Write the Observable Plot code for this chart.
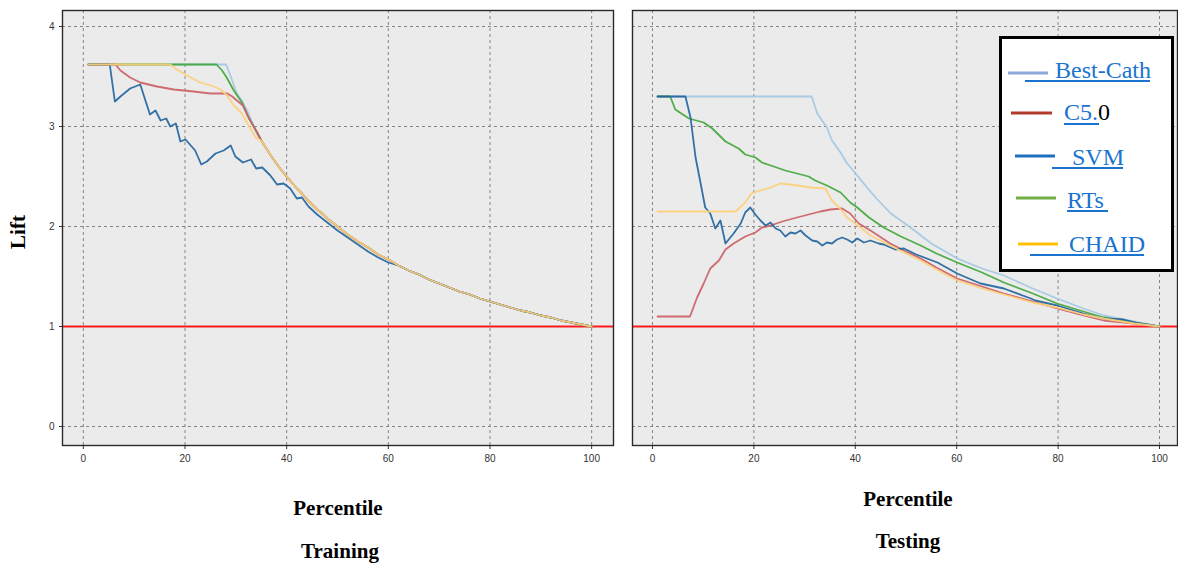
<!DOCTYPE html>
<html>
<head>
<meta charset="utf-8">
<script src="https://cdn.jsdelivr.net/npm/d3@7"></script>
<script src="https://cdn.jsdelivr.net/npm/@observablehq/plot@0.6"></script>
<style>
  html, body { margin: 0; padding: 0; background: #ffffff; }
  #wrap { position: relative; width: 1178px; height: 568px; overflow: hidden; }
  #left, #right, #overlay { position: absolute; top: 0; }
  #left { left: 0; }
  #right { left: 620px; }
  #overlay { left: 0; pointer-events: none; }
</style>
</head>
<body>
<div id="wrap">
  <div id="left"></div>
  <div id="right"></div>
  <svg id="overlay" width="1178" height="568"></svg>
</div>
<script>
// ---------- data (percentile, lift) ----------
const seriesNames = ["Best-Cath", "C5.0", "SVM", "RTs", "CHAID"];
const drawOrder = ["Best-Cath", "RTs", "C5.0", "SVM", "CHAID"];
const lineColors = ["#a3c8e2", "#cc5f66", "#22659f", "#43a73c", "#fdcf78"];
const legendColors = ["#8eaadb", "#b33a2a", "#1f6fbf", "#70ad47", "#ffc000"];
const xTicks = [0, 20, 40, 60, 80, 100];
const yTicks = [0, 1, 2, 3, 4];
const panelTitles = ["Training", "Testing"];
const axisTitleX = "Percentile";
const axisTitleY = "Lift";
const baselineLift = [1];

// common tail of the training curves (all models coincide after ~35%)
const trainTail = [[35,2.86],[36,2.78],[37,2.70],[38,2.63],[39,2.56],[40,2.50],[41,2.44],[42,2.38],[43,2.33],[44,2.27],[45,2.22],[46,2.17],[47,2.13],[48,2.08],[49,2.04],[50,2.00],[52,1.92],[54,1.85],[56,1.79],[58,1.72],[60,1.67],[62,1.61],[64,1.56],[66,1.52],[68,1.47],[70,1.43],[72,1.39],[74,1.35],[76,1.32],[78,1.28],[80,1.25],[82,1.22],[84,1.19],[86,1.16],[88,1.14],[90,1.11],[92,1.09],[94,1.06],[96,1.04],[98,1.02],[100,1.00]];

const trainBestCath = [[1,3.62],[28.1,3.62],[29,3.50],[30.2,3.33],[31.2,3.26],[32.5,3.13],[34,2.94]];
const trainRTs = [[1,3.62],[26.2,3.62],[27.3,3.56],[28.2,3.49],[29.6,3.36],[31.2,3.24],[32.5,3.09],[34.2,2.94]];
const trainC50 = [[1,3.62],[6.3,3.62],[7.3,3.56],[9.2,3.49],[11.2,3.44],[14.5,3.40],[17.8,3.37],[21.7,3.35],[25,3.33],[28.3,3.33],[29.3,3.30],[30.2,3.26],[31.4,3.21],[32.5,3.09],[34.2,2.94]];
const trainCHAID = [[1,3.62],[17.1,3.62],[18.1,3.58],[20.4,3.51],[23,3.44],[25.7,3.40],[27,3.37],[28.3,3.31],[29.6,3.21],[31.2,3.13],[32.5,3.01],[33.9,2.89]];
const trainSVM = [[1,3.62],[5.2,3.62],[6.2,3.25],[7.3,3.30],[9.2,3.38],[11.2,3.42],[13.1,3.12],[14.2,3.16],[15.2,3.06],[16.3,3.08],[17.1,3.00],[18.2,3.03],[19.1,2.85],[20.1,2.87],[22,2.76],[23.2,2.62],[24.3,2.65],[26,2.73],[27.6,2.76],[29,2.81],[29.9,2.70],[31.4,2.64],[33,2.67],[34,2.58],[35.2,2.59],[36.8,2.51],[38.1,2.42],[39.4,2.43],[40.7,2.38],[42,2.28],[43,2.29],[44.3,2.20],[46,2.12],[48,2.04],[50,1.96],[52,1.89],[54,1.82],[56,1.75],[58,1.69],[60,1.64],[62,1.61],[64,1.56],[66,1.52],[68,1.47],[70,1.43],[72,1.39],[74,1.35],[76,1.32],[78,1.28],[80,1.25],[82,1.22],[84,1.19],[86,1.16],[88,1.14],[90,1.11],[92,1.09],[94,1.06],[96,1.04],[98,1.02],[100,1.00]];

const testBestCath = [[1,3.30],[31.4,3.30],[32.5,3.13],[34.4,2.99],[35.4,2.86],[37.1,2.74],[38.4,2.63],[40.4,2.51],[42.3,2.39],[44,2.29],[47,2.13],[50.9,1.99],[55,1.83],[60.1,1.68],[65,1.58],[69.3,1.51],[75,1.38],[79.8,1.28],[85,1.18],[89,1.11],[95,1.05],[100,1.00]];
const testRTs = [[1,3.30],[3.5,3.30],[4.5,3.17],[7.2,3.08],[10.1,3.04],[11.8,2.98],[14.4,2.85],[17,2.78],[18.3,2.72],[20.3,2.69],[21.6,2.64],[23.9,2.60],[26.2,2.56],[28.5,2.53],[30.8,2.50],[32.1,2.46],[34.4,2.41],[37.1,2.34],[39,2.24],[40.4,2.19],[42.7,2.09],[45.6,1.99],[49,1.90],[52.9,1.81],[56,1.73],[60.1,1.64],[65,1.54],[69.3,1.44],[75,1.33],[79.8,1.23],[85,1.15],[89,1.09],[95,1.04],[100,1.00]];
const testSVM = [[1,3.30],[6.5,3.30],[7.5,3.09],[8.5,2.69],[9.5,2.43],[10.4,2.19],[11.4,2.13],[12.4,1.98],[13.4,2.06],[14.4,1.83],[16,1.93],[17.4,2.03],[18.3,2.14],[19.3,2.19],[20.3,2.12],[21.3,2.06],[22.3,2.01],[23.3,2.04],[24.3,1.98],[25.2,1.96],[26.2,1.90],[27.2,1.94],[28.2,1.93],[29.2,1.96],[30.2,1.91],[31.5,1.86],[32.5,1.85],[33.5,1.81],[34.4,1.84],[35.4,1.83],[36.4,1.87],[37.4,1.89],[38.4,1.87],[39.4,1.84],[40.4,1.88],[41.7,1.84],[43,1.86],[44.6,1.83],[45.6,1.82],[47.9,1.77],[49.6,1.78],[52,1.72],[56.2,1.64],[60.1,1.53],[64.7,1.43],[69.3,1.38],[74.6,1.28],[75.5,1.26],[79.8,1.21],[85,1.13],[89,1.08],[92.9,1.07],[96,1.03],[100,1.00]];
const testC50 = [[1,1.10],[7.4,1.10],[8.8,1.29],[10.1,1.43],[11.4,1.58],[13.1,1.66],[14.4,1.77],[16,1.83],[18.3,1.90],[20.3,1.94],[21.6,1.99],[23.3,2.01],[25.6,2.05],[28.5,2.09],[30.8,2.12],[33.1,2.15],[35.1,2.17],[37.4,2.18],[39,2.13],[40.7,2.03],[43,1.96],[46.9,1.83],[50,1.75],[52.9,1.68],[56,1.59],[60.1,1.48],[65,1.40],[69.3,1.33],[75,1.25],[79.8,1.18],[85,1.11],[89,1.06],[95,1.03],[100,1.00]];
const testCHAID = [[1,2.15],[16.4,2.15],[18.3,2.24],[19.5,2.33],[21.3,2.36],[23.3,2.39],[25.2,2.43],[27.2,2.42],[31.2,2.39],[34.1,2.38],[35.4,2.26],[36.8,2.19],[38.4,2.09],[41,1.99],[43,1.91],[46.9,1.81],[50,1.73],[52.9,1.66],[56,1.57],[60.1,1.46],[65,1.38],[69.3,1.32],[75,1.24],[79.8,1.19],[85,1.12],[89,1.08],[95,1.03],[100,1.00]];

// ---------- build tables ----------
function rows(name, pts) { return pts.map(([x, y]) => ({name, x, y})); }
const trainingSets = {
  "Best-Cath": trainBestCath.concat(trainTail),
  "RTs": trainRTs.concat(trainTail),
  "C5.0": trainC50.concat(trainTail),
  "SVM": trainSVM,
  "CHAID": trainCHAID.concat(trainTail)
};
const testingSets = {
  "Best-Cath": testBestCath, "RTs": testRTs, "C5.0": testC50, "SVM": testSVM, "CHAID": testCHAID
};
const trainRows = drawOrder.flatMap(n => rows(n, trainingSets[n]));
const testRows = drawOrder.flatMap(n => rows(n, testingSets[n]));

function panel(data, cfg) {
  return Plot.plot({
    width: cfg.width, height: 475,
    marginLeft: cfg.ml, marginRight: cfg.mr, marginTop: 10, marginBottom: 30,
    style: {background: "transparent", fontFamily: "Liberation Sans, Arial, sans-serif", fontSize: "10px", color: "#333"},
    x: {domain: cfg.xdom, ticks: xTicks, tickFormat: d3.format("d"), tickSize: 4, tickPadding: 5, label: null, line: false},
    y: cfg.showY
      ? {domain: [-0.19, 4.16], ticks: yTicks, tickFormat: d3.format("d"), tickSize: 3, tickPadding: 5, label: null}
      : {domain: [-0.19, 4.16], axis: null},
    color: {domain: seriesNames, range: lineColors},
    marks: [
      Plot.frame({fill: "#ebebeb", stroke: null}),
      Plot.ruleX(xTicks, {stroke: "#858585", strokeDasharray: "3,3", strokeWidth: 1}),
      Plot.ruleY(yTicks, {stroke: "#858585", strokeDasharray: "3,3", strokeWidth: 1}),
      Plot.ruleY(baselineLift, {stroke: "#ff1a1a", strokeWidth: 2.2}),
      Plot.line(data, {x: "x", y: "y", z: "name", stroke: "name", strokeWidth: 1.8, strokeOpacity: 0.92}),
      Plot.frame({stroke: "#2a2a2a", strokeWidth: 1.4})
    ]
  });
}

document.getElementById("left").appendChild(panel(trainRows, {width: 616, ml: 62, mr: 3, xdom: [-4.1, 104.3], showY: true}));
document.getElementById("right").appendChild(panel(testRows, {width: 558, ml: 12, mr: 1, xdom: [-3.94, 103.55], showY: false}));

// ---------- titles and legend (overlay) ----------
const ov = d3.select("#overlay");
const serif = "Liberation Serif, Times New Roman, serif";
function title(txt, x, y, rot) {
  const t = ov.append("text").attr("x", x).attr("y", y).attr("text-anchor", "middle")
    .attr("font-family", serif).attr("font-weight", "bold").attr("font-size", 21).attr("fill", "#000").text(txt);
  if (rot) t.attr("transform", `rotate(-90 ${x} ${y})`);
}
title(axisTitleY, 25, 232, true);
title(axisTitleX, 338, 515);
title(panelTitles[0], 340, 558);
title(axisTitleX, 908, 506);
title(panelTitles[1], 908, 548);

// legend box
ov.append("rect").attr("x", 1000.5).attr("y", 37.5).attr("width", 172).attr("height", 233)
  .attr("fill", "#fff").attr("stroke", "#000").attr("stroke-width", 3);
const linkBlue = "#1a73cf";
const legendLayout = [
  {sx: [1008, 1048], sy: 73,  tx: 1055, ty: 78,  ux: [1025, 1150], uy: 81},
  {sx: [1011, 1052], sy: 113, tx: 1064, ty: 120, ux: [1064, 1099], uy: 124},
  {sx: [1015, 1055], sy: 156, tx: 1072, ty: 165, ux: [1052, 1123], uy: 168},
  {sx: [1016, 1056], sy: 198, tx: 1067, ty: 208, ux: [1067, 1108], uy: 211},
  {sx: [1018, 1058], sy: 244, tx: 1069, ty: 252, ux: [1030, 1144], uy: 255}
];
seriesNames.forEach((name, i) => {
  const L = legendLayout[i];
  ov.append("line").attr("x1", L.sx[0]).attr("x2", L.sx[1]).attr("y1", L.sy).attr("y2", L.sy)
    .attr("stroke", legendColors[i]).attr("stroke-width", 3);
  const t = ov.append("text").attr("x", L.tx).attr("y", L.ty)
    .attr("font-family", serif).attr("font-size", 24).attr("fill", linkBlue);
  if (name === "C5.0") {
    t.append("tspan").text("C5.");
    t.append("tspan").attr("fill", "#000").text("0");
  } else {
    t.text(name);
  }
  ov.append("line").attr("x1", L.ux[0]).attr("x2", L.ux[1]).attr("y1", L.uy).attr("y2", L.uy)
    .attr("stroke", linkBlue).attr("stroke-width", 2);
});
</script>
</body>
</html>
